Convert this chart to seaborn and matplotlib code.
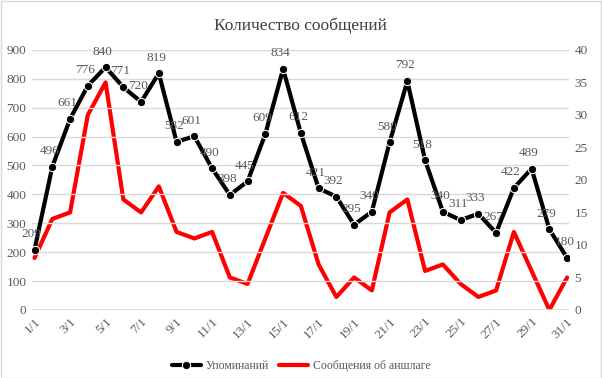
import numpy as np
import pandas as pd
import matplotlib
matplotlib.use("Agg")
import matplotlib.pyplot as plt
import seaborn as sns

# данные
days = [f"{d}/1" for d in range(1, 32)]
mentions = [209, 496, 661, 776, 840, 771, 720, 819, 582, 601, 490, 398, 445, 609, 834,
            612, 421, 392, 295, 340, 580, 792, 518, 340, 311, 333, 267, 422, 489, 279, 180]
sold_out = [8, 14, 15, 30, 35, 17, 15, 19, 12, 11, 12, 5, 4, 11, 18,
            16, 7, 2, 5, 3, 15, 17, 6, 7, 4, 2, 3, 12, 6, 0, 5]

sns.set_style("white")
plt.rcParams['font.family'] = ['Liberation Serif', 'DejaVu Serif']

df = pd.DataFrame({"idx": np.arange(len(days)), "day": days,
                   "mentions": mentions, "sold_out": sold_out})

fig, ax = plt.subplots(figsize=(6.02, 3.78), dpi=100)
fig.subplots_adjust(left=0.053, right=0.945, top=0.868, bottom=0.18)
ax2 = ax.twinx()

text_col = "#595959"
grid_col = "#D9D9D9"

# красная линия (правая ось) под черной
sns.lineplot(data=df, x="idx", y="sold_out", ax=ax2, color="#FF0000", linewidth=3,
             label="Сообщения об аншлаге", legend=False)
sns.lineplot(data=df, x="idx", y="mentions", ax=ax, color="black", linewidth=3,
             marker="o", markersize=6, label="Упоминаний", legend=False)
ax.set_zorder(ax2.get_zorder() + 1)
ax.patch.set_visible(False)

# подписи данных
for i, v in enumerate(mentions):
    ax.annotate(str(v), (i, v), xytext=(-2, 7), textcoords="offset points",
                ha="center", va="bottom", fontsize=9.5, color=text_col)

ax.set_ylim(0, 900)
ax.set_yticks(range(0, 901, 100))
ax2.set_ylim(0, 40)
ax2.set_yticks(range(0, 41, 5))
ax.set_xlim(-0.15, 30.1)
ax.set_xticks(range(0, 31, 2))
ax.set_xticklabels(days[::2], rotation=45, ha="right", rotation_mode="anchor")
ax.set_xlabel("")
ax.set_ylabel("")
ax2.set_ylabel("")

for a in (ax, ax2):
    a.tick_params(axis="both", length=0, labelsize=9.5, labelcolor=text_col, pad=4)
    for s in a.spines.values():
        s.set_visible(False)
ax.yaxis.grid(True, color=grid_col, linewidth=1)
ax.axhline(0, color=grid_col, linewidth=1.2, zorder=0)

ax.set_title("Количество сообщений", fontsize=12.5, color="#404040", pad=14)

h1, l1 = ax.get_legend_handles_labels()
h2, l2 = ax2.get_legend_handles_labels()
fig.legend(h1 + h2, l1 + l2, loc="center", bbox_to_anchor=(0.5, 0.032), ncol=2,
           frameon=False, fontsize=8.5, labelcolor=text_col, handlelength=2.5,
           columnspacing=0.8, handletextpad=0.4)

fig.patches.append(plt.Rectangle((0.001, 0.001), 0.997, 0.997, transform=fig.transFigure,
                                 fill=False, edgecolor="#D9D9D9", linewidth=1))

fig.savefig("out.png", dpi=100)
